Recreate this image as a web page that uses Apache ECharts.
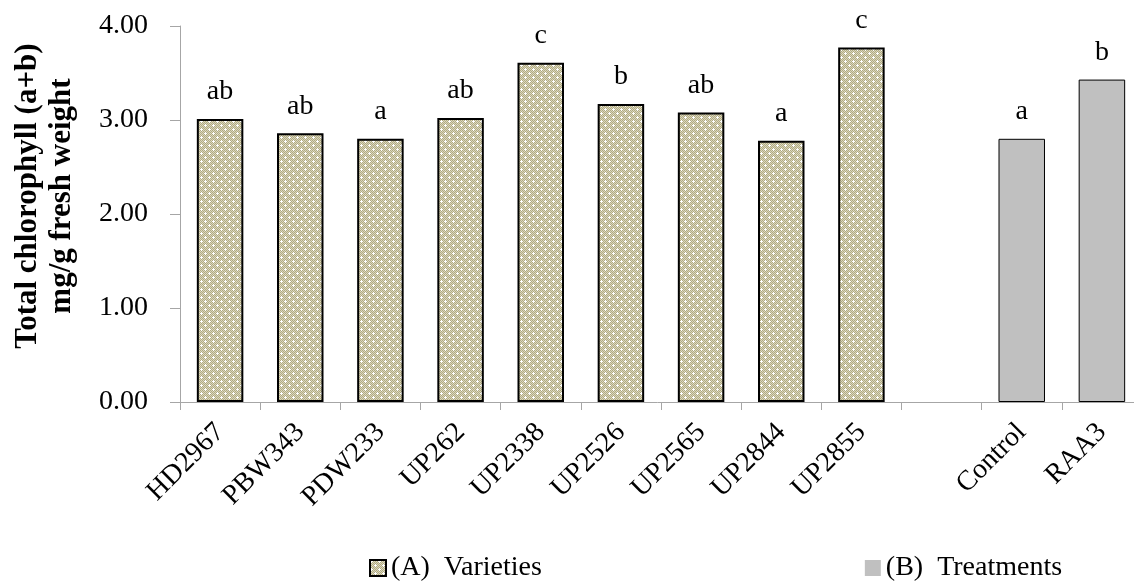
<!DOCTYPE html>
<html>
<head>
<meta charset="utf-8">
<script src="https://cdn.jsdelivr.net/npm/echarts@6/dist/echarts.min.js"></script>
<style>
  html, body { margin: 0; padding: 0; background: #fff; }
  #chart-box { width: 1134px; height: 588px; }
</style>
</head>
<body>
<div id="chart-box"></div>
<script>
// categories (one empty slot separates the two groups)
const categories = ['HD2967', 'PBW343', 'PDW233', 'UP262', 'UP2338', 'UP2526', 'UP2565', 'UP2844', 'UP2855', '', 'Control', 'RAA3']
const varieties = [3.01, 2.86, 2.80, 3.02, 3.61, 3.17, 3.08, 2.78, 3.77, '-', '-', '-']
const treatments = ['-', '-', '-', '-', '-', '-', '-', '-', '-', '-', 2.80, 3.43]
const letters = ['ab', 'ab', 'a', 'ab', 'c', 'b', 'ab', 'a', 'c', '', 'a', 'b']
const yTicks = [0, 1, 2, 3, 4]

// dotted khaki fill like the original
function makePattern() {
    const c = document.createElement('canvas')
    c.width = 8
    c.height = 8
    const ctx = c.getContext('2d')
    ctx.fillStyle = '#dcd8bc'
    ctx.fillRect(0, 0, 8, 8)
    ctx.fillStyle = '#b0aa84'
    for (let y = 0; y < 8; y++) {
        for (let x = 0; x < 8; x++) {
            if ((x + y) % 2 === 0) ctx.fillRect(x, y, 1, 1)
        }
    }
    ctx.fillStyle = '#ffffff'
    ctx.fillRect(0, 1, 3, 1)
    ctx.fillRect(1, 0, 1, 3)
    ctx.fillRect(4, 5, 3, 1)
    ctx.fillRect(5, 4, 1, 3)
    return c
}

const font = 'Liberation Serif'
const chart = echarts.init(document.getElementById('chart-box'))
const pattern = {image: makePattern(), repeat: 'repeat'}

chart.setOption({
    animation: false,
    grid: {left: 180, right: -8, top: 26, bottom: 186, outerBoundsMode: 'none', containLabel: false},
    legend: {
        left: 364,
        top: 549,
        itemGap: 323,
        itemWidth: 16,
        itemHeight: 16,
        textStyle: {fontFamily: font, fontSize: 28, color: '#000'},
        data: [
            {name: '(A)  Varieties', icon: 'rect', itemStyle: {color: pattern, borderColor: '#000', borderWidth: 2}},
            {name: '(B)  Treatments', icon: 'rect', itemStyle: {color: '#c0c0c0', borderWidth: 0}}
        ]
    },
    xAxis: {
        type: 'category',
        data: categories,
        axisLine: {lineStyle: {color: '#a6a6a6', width: 1}},
        axisTick: {show: true, length: 8, lineStyle: {color: '#a6a6a6'}},
        axisLabel: {
            rotate: 45,
            margin: 26,
            interval: 0,
            fontFamily: font,
            fontSize: 28,
            color: '#000'
        }
    },
    yAxis: {
        type: 'value',
        min: yTicks[0],
        max: yTicks[yTicks.length - 1],
        interval: 1,
        name: 'Total chlorophyll (a+b)\nmg/g fresh weight',
        nameLocation: 'middle',
        nameGap: 101,
        nameTextStyle: {
            fontFamily: font,
            fontSize: 31,
            fontWeight: 'bold',
            color: '#000',
            lineHeight: 34,
            padding: [0, 0, 0, 36]
        },
        splitLine: {show: false},
        axisLine: {show: true, lineStyle: {color: '#a6a6a6'}},
        axisTick: {show: true, length: 10, lineStyle: {color: '#a6a6a6'}},
        axisLabel: {
            margin: 32,
            fontFamily: font,
            fontSize: 28,
            color: '#000',
            formatter: v => v.toFixed(2)
        }
    },
    series: [
        {
            name: '(A)  Varieties',
            type: 'bar',
            stack: 'all',
            barWidth: '58%',
            data: varieties,
            itemStyle: {color: pattern, borderColor: '#000', borderWidth: 2},
            label: {
                show: true,
                position: 'top',
                distance: 13,
                fontFamily: font,
                fontSize: 28,
                color: '#000',
                formatter: p => letters[p.dataIndex]
            }
        },
        {
            name: '(B)  Treatments',
            type: 'bar',
            stack: 'all',
            barWidth: '58%',
            data: treatments,
            itemStyle: {color: '#c0c0c0', borderColor: '#000', borderWidth: 1},
            label: {
                show: true,
                position: 'top',
                distance: 13,
                fontFamily: font,
                fontSize: 28,
                color: '#000',
                formatter: p => letters[p.dataIndex]
            }
        }
    ]
})
</script>
</body>
</html>
